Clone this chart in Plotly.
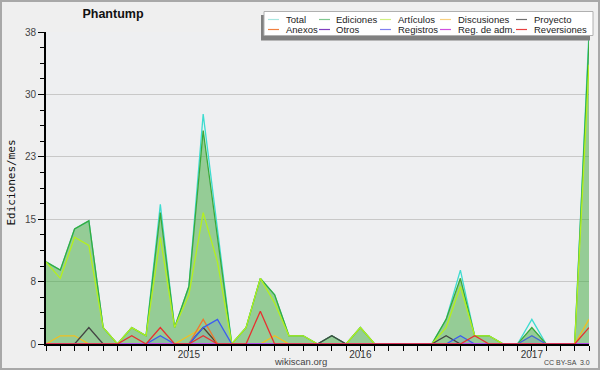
import plotly.graph_objects as go

# ---------------- data ----------------
months = [
    "2014-03", "2014-04", "2014-05", "2014-06", "2014-07", "2014-08", "2014-09", "2014-10",
    "2014-11", "2014-12", "2015-01", "2015-02", "2015-03", "2015-04", "2015-05", "2015-06",
    "2015-07", "2015-08", "2015-09", "2015-10", "2015-11", "2015-12", "2016-01", "2016-02",
    "2016-03", "2016-04", "2016-05", "2016-06", "2016-07", "2016-08", "2016-09", "2016-10",
    "2016-11", "2016-12", "2017-01", "2017-02", "2017-03", "2017-04", "2017-05",
]
total       = [10, 9, 14, 15, 2, 0, 2, 1, 17, 2, 7, 28, 14, 0, 2, 8, 6, 1, 1, 0, 1, 0, 2, 0, 0, 0, 0, 0, 3, 9, 1, 1, 0, 0, 3, 0, 0, 0, 38]
ediciones   = [10, 9, 14, 15, 2, 0, 2, 1, 16, 2, 7, 26, 13, 0, 2, 8, 6, 1, 1, 0, 1, 0, 2, 0, 0, 0, 0, 0, 3, 8, 1, 1, 0, 0, 2, 0, 0, 0, 37]
articulos   = [10, 8, 13, 12, 2, 0, 2, 1, 13, 2, 6, 16, 10, 0, 2, 8, 5, 1, 1, 0, 0, 0, 2, 0, 0, 0, 0, 0, 2, 7, 1, 1, 0, 0, 1, 0, 0, 0, 34]
discusiones = [0, 1, 1, 0, 0, 0, 0, 0, 0, 0, 1, 2, 0, 0, 0, 0, 1, 0, 0, 0, 0, 0, 0, 0, 0, 0, 0, 0, 0, 0, 0, 0, 0, 0, 0, 0, 0, 0, 3]
proyecto    = [0, 0, 0, 2, 0, 0, 0, 0, 0, 0, 0, 2, 0, 0, 0, 0, 0, 0, 0, 0, 1, 0, 0, 0, 0, 0, 0, 0, 1, 0, 0, 0, 0, 0, 0, 0, 0, 0, 0]
anexos      = [0, 0, 0, 0, 0, 0, 0, 0, 0, 0, 0, 3, 0, 0, 0, 0, 0, 0, 0, 0, 0, 0, 0, 0, 0, 0, 0, 0, 0, 0, 0, 0, 0, 0, 0, 0, 0, 0, 0]
otros       = [0] * 39
registros   = [0, 0, 0, 0, 0, 0, 0, 0, 1, 0, 0, 2, 3, 0, 0, 0, 0, 0, 0, 0, 0, 0, 0, 0, 0, 0, 0, 0, 0, 1, 0, 0, 0, 0, 1, 0, 0, 0, 0]
reg_adm     = [0] * 39
reversiones = [0, 0, 0, 0, 0, 0, 1, 0, 2, 0, 0, 1, 0, 0, 0, 4, 0, 0, 0, 0, 0, 0, 0, 0, 0, 0, 0, 0, 0, 0, 1, 0, 0, 0, 0, 0, 0, 0, 2]

year_labels = {"2015-01": "2015", "2016-01": "2016", "2017-01": "2017"}
y_tick_vals = [0, 7.6, 15.2, 22.8, 30.4, 38]
y_tick_text = ["0", "8", "15", "23", "30", "38"]

# ---------------- styles ----------------
series = [
    ("Total", total, "#3ddcd0"),
    ("Ediciones", ediciones, "#3aaa3a"),
    ("Artículos", articulos, "#b4f01e"),
    ("Discusiones", discusiones, "#f0c020"),
    ("Proyecto", proyecto, "#444444"),
    ("Anexos", anexos, "#f07830"),
    ("Otros", otros, "#8a2be2"),
    ("Registros", registros, "#3c5cf0"),
    ("Reg. de adm.", reg_adm, "#d040e0"),
    ("Reversiones", reversiones, "#e83030"),
]
legend_order = ["Total", "Ediciones", "Artículos", "Discusiones", "Proyecto",
                "Anexos", "Otros", "Registros", "Reg. de adm.", "Reversiones"]
legend_colors = {"Total": "#a8e6e0", "Ediciones": "#80c890", "Artículos": "#d0f080",
                 "Discusiones": "#f8d080", "Proyecto": "#707070", "Anexos": "#f08040",
                 "Otros": "#8040c0", "Registros": "#8080f0", "Reg. de adm.": "#d050e0",
                 "Reversiones": "#e84040"}

W, H = 600, 370
L, R, T, B = 46, 11, 32, 26
PW, PH = W - L - R, H - T - B


def px(x):
    return (x - L) / PW


def py(y):
    return (H - B - y) / PH


fig = go.Figure()

# filled areas
fig.add_trace(go.Scatter(x=months, y=ediciones, mode="lines", fill="tozeroy",
                         fillcolor="rgba(60,170,60,0.5)", line=dict(width=0),
                         hoverinfo="skip", showlegend=False))
fig.add_trace(go.Scatter(x=months, y=registros, mode="lines", fill="tozeroy",
                         fillcolor="rgba(60,92,240,0.13)", line=dict(width=0),
                         hoverinfo="skip", showlegend=False))

for name, vals, col in series:
    fig.add_trace(go.Scatter(x=months, y=vals, mode="lines", name=name,
                             line=dict(color=col, width=1.3), showlegend=False))

font_main = "Liberation Sans, Arial, sans-serif"

fig.update_layout(
    width=W, height=H,
    margin=dict(l=L, r=R, t=T, b=B),
    paper_bgcolor="#efefef",
    plot_bgcolor="#eeeff1",
    showlegend=False,
    font=dict(family=font_main, size=10, color="#333"),
    title=dict(text="<b>Phantump</b>", x=113 / W, xanchor="center", xref="container",
               y=1 - 14 / H, yanchor="middle", yref="container",
               font=dict(family=font_main, size=12.5, color="#111")),
)

fig.update_xaxes(
    type="category", range=[0, len(months) - 1],
    tickmode="array", tickvals=months,
    ticktext=[year_labels.get(m, "") for m in months],
    ticks="outside", ticklen=5, tickcolor="#000", tickwidth=1,
    showline=True, linecolor="#000", linewidth=2,
    showgrid=False, zeroline=False,
    tickfont=dict(size=10, color="#333"),
    ticklabelstandoff=-5,
)
fig.update_yaxes(
    range=[0, 38], tickmode="array", tickvals=y_tick_vals, ticktext=y_tick_text,
    ticks="outside", ticklen=6, tickcolor="#000", tickwidth=1,
    showline=True, linecolor="#000", linewidth=2,
    showgrid=True, gridcolor="#c8c8c8", gridwidth=1, zeroline=False,
    tickfont=dict(size=10, color="#444"),
    minor=dict(tickmode="array", tickvals=[1.9 * k for k in range(21)],
               ticks="outside", ticklen=4, tickcolor="#000", showgrid=False),
)

shapes = []
annotations = []

# outer border
shapes.append(dict(type="rect", xref="paper", yref="paper",
                   x0=px(1), x1=px(W - 1), y0=py(1), y1=py(H - 1),
                   line=dict(color="#a8a8a8", width=2), fillcolor="rgba(0,0,0,0)", layer="above"))

# legend box with shadow
shapes.append(dict(type="rect", xref="paper", yref="paper",
                   x0=px(261), x1=px(590), y0=py(15), y1=py(40.5),
                   line=dict(width=0), fillcolor="#808080", layer="above"))
shapes.append(dict(type="rect", xref="paper", yref="paper",
                   x0=px(264), x1=px(593), y0=py(11.5), y1=py(35.5),
                   line=dict(color="#b0b0b0", width=1), fillcolor="#ffffff", layer="above"))

col_line_x = [268, 319, 380, 440, 516]
col_text_x = [284, 334, 396, 456, 532]
row_y = [19.5, 29.5]
for i, name in enumerate(legend_order):
    r, c = divmod(i, 5)
    y = row_y[r]
    shapes.append(dict(type="line", xref="paper", yref="paper",
                       x0=px(col_line_x[c]), x1=px(col_line_x[c] + 11), y0=py(y), y1=py(y),
                       line=dict(color=legend_colors[name], width=1.2), layer="above"))
    annotations.append(dict(text=name, xref="paper", yref="paper",
                            x=px(col_text_x[c]), y=py(y), xanchor="left", yanchor="middle",
                            showarrow=False, font=dict(family=font_main, size=9.5, color="#222")))

# y-axis title
annotations.append(dict(text="Ediciones/mes", xref="paper", yref="paper",
                        x=px(11.5), y=py(183), textangle=-90, showarrow=False,
                        xanchor="center", yanchor="middle",
                        font=dict(family="DejaVu Sans Mono, monospace", size=11, color="#111")))
# footer texts
annotations.append(dict(text="wikiscan.org", xref="paper", yref="paper",
                        x=px(300.5), y=py(361), showarrow=False,
                        xanchor="center", yanchor="middle",
                        font=dict(family=font_main, size=9.5, color="#444")))
annotations.append(dict(text="CC BY-SA  3.0", xref="paper", yref="paper",
                        x=px(592), y=py(362), showarrow=False,
                        xanchor="right", yanchor="middle",
                        font=dict(family=font_main, size=7, color="#444")))

fig.update_layout(shapes=shapes, annotations=annotations)

fig.write_html("out.html")
